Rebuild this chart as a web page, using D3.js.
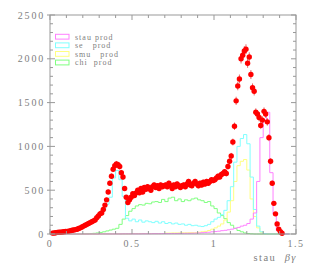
<!DOCTYPE html>
<html>
<head>
<meta charset="utf-8">
<title>stau beta gamma</title>
<style>
  html, body { margin: 0; padding: 0; background: #fff; }
  svg text { font-family: "Liberation Serif", "DejaVu Serif", serif; fill: #808080; white-space: pre; }
</style>
</head>
<body>
<svg id="chart" width="314" height="266"></svg>
<script src="https://cdn.jsdelivr.net/npm/d3@7"></script>
<script>
// histogram bins: width 0.02 starting at 0
var binStart = 0, binWidth = 0.02

var stauProd = [0,0,0,0,0,0,0,0,0,0, 0,0,0,0,0,1,1,1,1,1, 1,1,2,2,2,2,2,2,3,3,
  3,4,4,4,5,5,5,6,6,7, 7,8,8,9,10,12,15,18,20,25, 28,32,38,42,48,55,65,75,90,100,
  120,170,240,600,1100,1300,1390,700,230,40, 8,0,0]
var seProd = [8,12,18,20,25,30,38,45,55,70, 90,110,125,145,180,220,270,340,420,640,
  725,620,430,180,150,170,140,160,135,150, 140,130,145,125,140,120,130,115,125,110,
  115,100,110,95,100,90,85,95,110,140, 170,190,220,270,380,540,820,1000,1090,1135,
  1030,650,280,90,25,5,0,0,0,0, 0,0,0]
var smuProd = [0,0,0,0,0,0,0,0,0,0, 0,0,0,0,0,2,2,2,2,2, 2,2,2,2,2,5,5,5,5,5,
  5,5,5,5,5,10,10,12,12,12, 14,14,15,15,15,20,25,30,40,55, 70,90,115,160,250,380,600,780,830,850,
  730,400,200,70,20,5,0,0,0,0, 0,0,0]
var chiProd = [0,0,0,0,0,0,0,0,0,0, 2,3,5,8,12,18,25,35,45,55,
  65,110,170,210,260,290,320,335,330,350, 345,365,370,360,395,370,410,420,380,400,
  370,390,380,400,410,390,380,360,370,320, 290,240,210,175,130,100,65,40,25,12,
  5,2,0,0,0,0,0,0,0,0, 0,0,0]

// data points: bin width 0.01, first centre at 0.015
var dataStart = 0.015, dataStep = 0.01
var dataValues = [10,12,15,18,20,20,22,25,28,30,
  33,38,42,45,50,55,62,70,80,90,
  100,110,120,130,140,150,160,185,205,230,
  240,280,330,390,480,580,660,740,780,800,
  790,770,700,650,520,420,360,390,420,460,
  440,470,500,470,520,480,530,510,540,520,
  500,540,560,530,550,520,560,540,550,560,
  540,580,550,520,560,540,570,550,530,550,
  560,540,570,600,560,550,580,600,570,550,
  580,560,590,570,600,580,600,620,610,620,
  640,660,650,680,690,710,690,770,830,890,
  1050,1230,1520,1690,1770,2000,2040,2090,2110,1950,
  2020,1820,1670,1630,1390,1370,1330,1240,1300,1400,
  1370,1280,1100,830,580,350,230,115,55,25,
  8]

var legendNames = ['stau prod', 'se   prod', 'smu   prod', 'chi  prod']
var legendColors = ['#ff80ff', '#80ffff', '#ffff80', '#80ff80']

var xTicks = [0, 0.5, 1, 1.5]
var yTicks = [0, 500, 1000, 1500, 2000, 2500]
var xLabel = 'stau  '
var xLabelGreek = 'βγ'

var svg = d3.select('#chart')
var plotLeft = 50, plotRight = 296, plotTop = 15, plotBottom = 234

var x = d3.scaleLinear().domain([0, 1.5]).range([plotLeft, plotRight])
var y = d3.scaleLinear().domain([0, 2500]).range([plotBottom, plotTop])

var axisColor = '#999'

// histograms drawn as step lines
var series = [stauProd, seProd, smuProd, chiProd]
var histGroup = svg.append('g')
// draw in reverse so stau ends on top like the original
;[3, 2, 1, 0].forEach(function (k) {
  var vals = series[k]
  var pts = vals.map(function (v, i) { return [binStart + i * binWidth, v] })
  pts.push([binStart + vals.length * binWidth, vals[vals.length - 1]])
  var line = d3.line()
    .x(function (d) { return x(d[0]) })
    .y(function (d) { return y(d[1]) })
    .curve(d3.curveStepAfter)
  histGroup.append('path')
    .attr('d', line(pts))
    .attr('fill', 'none')
    .attr('stroke', legendColors[k])
    .attr('stroke-width', 1)
})

// data points with error bars
var points = dataValues.map(function (v, i) { return { x: dataStart + i * dataStep, y: v } })
var ptGroup = svg.append('g')
ptGroup.selectAll('line.err')
  .data(points)
  .enter().append('line')
  .attr('class', 'err')
  .attr('x1', function (d) { return x(d.x) })
  .attr('x2', function (d) { return x(d.x) })
  .attr('y1', function (d) { return y(d.y + Math.sqrt(d.y) * 1.2) })
  .attr('y2', function (d) { return y(Math.max(0, d.y - Math.sqrt(d.y) * 1.2)) })
  .attr('stroke', '#e04040')
  .attr('stroke-width', 0.8)
ptGroup.selectAll('circle')
  .data(points)
  .enter().append('circle')
  .attr('cx', function (d) { return x(d.x) })
  .attr('cy', function (d) { return y(d.y) })
  .attr('r', 2.7)
  .attr('fill', '#ff0000')

// frame
svg.append('rect')
  .attr('x', plotLeft).attr('y', plotTop)
  .attr('width', plotRight - plotLeft).attr('height', plotBottom - plotTop)
  .attr('fill', 'none').attr('stroke', axisColor).attr('stroke-width', 1)

var tickGroup = svg.append('g').attr('stroke', axisColor).attr('stroke-width', 1)

// y ticks (left and right), minor every 100
d3.range(0, 2501, 100).forEach(function (v) {
  var major = v % 500 === 0
  var len = major ? 5 : 3
  var yy = y(v)
  tickGroup.append('line').attr('x1', major ? plotLeft - 3 : plotLeft).attr('x2', plotLeft + len).attr('y1', yy).attr('y2', yy)
  tickGroup.append('line').attr('x1', plotRight - len).attr('x2', plotRight).attr('y1', yy).attr('y2', yy)
})

// x ticks (bottom and top), minor every 0.1
d3.range(0, 16).forEach(function (i) {
  var v = i / 10
  var major = i % 5 === 0
  var len = major ? 5 : 3
  var xx = x(v)
  tickGroup.append('line').attr('x1', xx).attr('x2', xx).attr('y1', plotBottom).attr('y2', plotBottom - len)
  tickGroup.append('line').attr('x1', xx).attr('x2', xx).attr('y1', plotTop).attr('y2', plotTop + len)
})

// tick labels
svg.selectAll('text.ylab')
  .data(yTicks)
  .enter().append('text')
  .attr('class', 'ylab')
  .attr('x', plotLeft - 5)
  .attr('y', function (d) { return y(d) + 3.5 })
  .attr('text-anchor', 'end')
  .attr('font-size', 10)
  .attr('letter-spacing', 1.8)
  .text(function (d) { return d })

svg.selectAll('text.xlab')
  .data(xTicks)
  .enter().append('text')
  .attr('class', 'xlab')
  .attr('x', function (d) { return x(d) })
  .attr('y', 247)
  .attr('text-anchor', 'middle')
  .attr('font-size', 10)
  .attr('letter-spacing', 1.5)
  .text(function (d) { return d })

// axis title
var title = svg.append('text')
  .attr('x', 297)
  .attr('y', 261)
  .attr('text-anchor', 'end')
  .attr('font-size', 10.5)
  .attr('letter-spacing', 1.5)
title.append('tspan').text(xLabel)
title.append('tspan').attr('font-style', 'italic').text(xLabelGreek)

// legend
var legend = svg.append('g')
legendNames.forEach(function (name, i) {
  var yy = 34.3 + i * 8.6
  legend.append('rect')
    .attr('x', 55.5).attr('y', yy)
    .attr('width', 13.5).attr('height', 4.8)
    .attr('fill', 'none')
    .attr('stroke', legendColors[i])
    .attr('stroke-width', 1)
  legend.append('text')
    .attr('x', 75)
    .attr('y', yy + 5.2)
    .attr('font-size', 8)
    .attr('letter-spacing', 1)
    .text(name)
})
</script>
</body>
</html>
